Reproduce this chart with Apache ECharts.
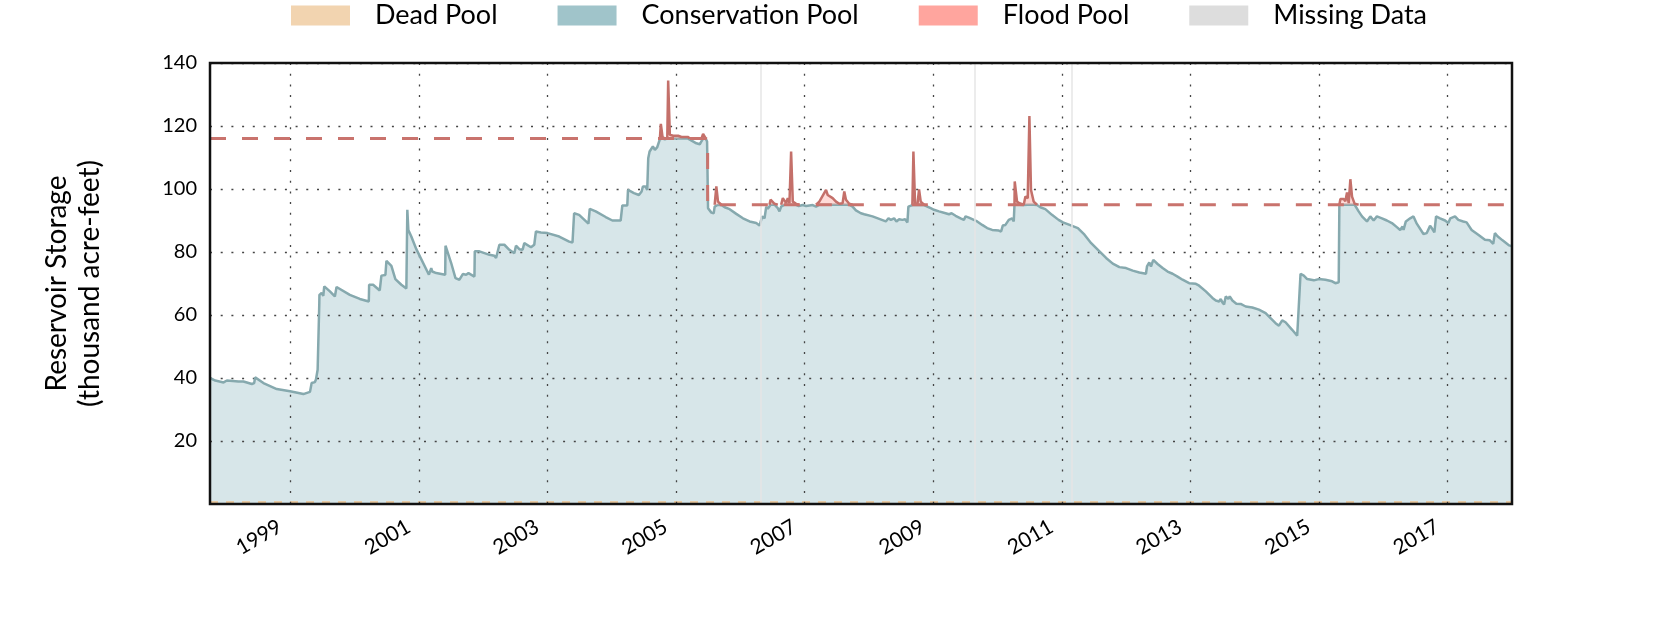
<!DOCTYPE html>
<html><head><meta charset="utf-8">
<script src="https://cdn.jsdelivr.net/npm/echarts@6.0.0/dist/echarts.min.js"></script>
<style>html,body{margin:0;padding:0;background:#fff}#c{width:1680px;height:630px}</style>
</head><body><div id="c"></div>
<script>
// Decimal year of each reading
const years = [
1997.75,1997.832,1997.961,1998.013,1998.194,1998.220,1998.271,1998.401,1998.437,1998.452,
1998.581,1998.788,1998.995,1999.202,1999.305,1999.331,1999.382,1999.398,1999.424,1999.450,
1999.452,1999.486,1999.512,1999.527,1999.615,1999.692,1999.718,1999.925,2000.080,2000.220,
2000.225,2000.287,2000.390,2000.416,2000.478,2000.494,2000.571,2000.597,2000.633,2000.726,
2000.804,2000.819,2000.835,2000.881,2000.959,2001.155,2001.191,2001.207,2001.269,2001.408,
2001.413,2001.501,2001.568,2001.630,2001.682,2001.734,2001.770,2001.863,2001.868,2001.940,
2002.096,2002.173,2002.199,2002.251,2002.328,2002.406,2002.483,2002.509,2002.561,2002.612,
2002.638,2002.742,2002.793,2002.819,2002.897,2003.000,2003.181,2003.336,2003.388,2003.413,
2003.491,2003.636,2003.656,2003.749,2003.904,2004.008,2004.137,2004.163,2004.240,2004.251,
2004.344,2004.421,2004.463,2004.483,2004.524,2004.550,2004.566,2004.587,2004.618,2004.638,
2004.669,2004.706,2004.747,2004.762,2004.788,2004.824,2004.862,2004.876,2004.902,2004.953,
2005.031,2005.083,2005.186,2005.212,2005.315,2005.367,2005.393,2005.419,2005.460,2005.481,
2005.496,2005.548,2005.584,2005.599,2005.625,2005.651,2005.703,2005.755,2005.832,2005.935,
2006.039,2006.142,2006.245,2006.297,2006.323,2006.338,2006.375,2006.401,2006.426,2006.452,
2006.468,2006.530,2006.581,2006.607,2006.633,2006.659,2006.685,2006.711,2006.736,2006.762,
2006.788,2006.814,2006.866,2006.907,2006.969,2007.021,2007.124,2007.176,2007.227,2007.253,
2007.331,2007.357,2007.382,2007.434,2007.486,2007.537,2007.589,2007.615,2007.641,2007.692,
2007.744,2007.796,2007.873,2007.925,2007.951,2008.054,2008.158,2008.261,2008.302,2008.339,
2008.390,2008.426,2008.468,2008.519,2008.561,2008.597,2008.612,2008.674,2008.690,2008.716,
2008.752,2008.778,2008.804,2008.855,2008.907,2008.959,2009.010,2009.088,2009.191,2009.243,
2009.284,2009.346,2009.424,2009.475,2009.501,2009.553,2009.579,2009.630,2009.682,2009.760,
2009.837,2009.915,2010.018,2010.054,2010.080,2010.121,2010.173,2010.225,2010.251,2010.262,
2010.266,2010.302,2010.338,2010.406,2010.432,2010.468,2010.494,2010.519,2010.561,2010.612,
2010.664,2010.742,2010.845,2010.948,2011.016,2011.119,2011.248,2011.351,2011.455,2011.584,
2011.687,2011.791,2011.894,2011.997,2012.101,2012.204,2012.307,2012.323,2012.359,2012.385,
2012.421,2012.488,2012.566,2012.643,2012.721,2012.798,2012.876,2012.979,2013.083,2013.134,
2013.238,2013.341,2013.393,2013.444,2013.470,2013.496,2013.522,2013.548,2013.589,2013.610,
2013.651,2013.713,2013.780,2013.858,2013.961,2014.064,2014.168,2014.245,2014.323,2014.375,
2014.426,2014.478,2014.581,2014.659,2014.685,2014.711,2014.762,2014.814,2014.917,2014.995,
2015.098,2015.202,2015.253,2015.305,2015.315,2015.331,2015.382,2015.408,2015.434,2015.460,
2015.486,2015.512,2015.553,2015.615,2015.667,2015.744,2015.796,2015.848,2015.899,2015.977,
2016.054,2016.132,2016.209,2016.261,2016.297,2016.313,2016.349,2016.416,2016.468,2016.519,
2016.623,2016.674,2016.726,2016.752,2016.793,2016.819,2016.881,2016.959,2017.010,2017.041,
2017.114,2017.165,2017.242,2017.294,2017.372,2017.475,2017.579,2017.656,2017.708,2017.734,
2017.775,2017.853,2017.956,2018.0
];
// Reservoir storage (thousand acre-feet)
const storage = [
40.0,39.2,38.6,39.2,38.9,39.5,38.9,38.1,38.4,40.2,
38.4,36.5,35.8,34.9,35.6,38.4,38.7,39.5,42.6,63.8,
66.4,67.0,66.1,69.1,67.5,65.9,68.9,66.4,65.1,64.3,
69.6,69.6,67.8,72.5,72.7,77.2,75.6,75.4,71.4,69.6,
68.4,93.4,87.0,84.9,80.9,72.8,74.9,73.8,73.3,72.8,
82.0,76.5,71.7,71.2,73.0,72.8,73.3,72.2,80.2,80.2,
79.1,78.8,78.1,82.3,82.3,80.7,79.6,82.0,80.9,80.7,
82.8,81.5,82.3,86.5,86.2,86.0,84.9,83.3,83.0,92.3,
91.8,89.0,93.7,92.9,91.1,90.0,90.0,94.8,94.8,99.7,
98.7,98.1,99.2,100.8,100.8,99.7,109.8,111.9,111.4,113.5,
112.4,113.3,115.8,120.7,116.5,115.8,116.2,134.4,117.2,116.9,
116.9,116.5,116.5,115.8,114.5,114.2,115.1,117.5,116.1,115.1,
93.9,92.5,92.3,94.4,100.8,96.0,94.9,94.2,93.6,92.1,
90.7,89.7,89.2,88.4,89.0,91.3,90.7,94.4,93.7,93.9,
96.6,95.3,93.9,92.9,94.4,97.1,97.6,95.5,97.1,95.5,
111.9,96.0,95.3,94.6,94.9,94.6,94.9,94.4,96.0,95.5,
99.7,98.1,98.4,97.1,96.0,95.3,95.5,99.2,96.6,95.3,
94.4,93.2,92.3,92.0,92.3,91.3,90.5,89.7,90.7,90.2,
90.7,89.7,90.4,90.2,90.4,89.4,94.4,94.9,111.9,95.3,
94.9,99.9,96.0,94.9,94.4,93.9,93.4,92.9,92.3,92.0,
92.3,91.5,90.7,90.2,91.3,90.9,91.3,90.2,89.7,88.6,
87.6,87.0,86.8,86.5,88.4,88.6,90.2,90.7,89.7,95.0,
102.4,96.0,95.5,94.9,97.6,97.1,123.2,99.7,96.0,94.9,
94.2,93.6,91.8,90.2,89.4,88.6,87.6,85.5,82.8,80.2,
78.1,76.3,75.2,74.9,74.1,73.5,73.1,75.4,76.7,75.4,
77.5,76.2,74.9,73.8,73.1,72.2,71.2,70.1,69.9,69.3,
67.5,65.4,64.6,64.3,65.1,64.0,63.3,65.9,65.1,65.9,
64.6,63.6,63.5,62.7,62.4,61.7,60.6,59.0,57.4,56.6,
58.3,57.7,55.3,53.4,53.7,73.1,72.5,71.4,71.0,71.4,
71.2,70.7,70.1,70.4,95.0,96.8,96.8,96.1,98.9,95.5,
103.1,97.6,95.3,92.9,91.3,89.7,91.3,90.0,91.3,90.7,
90.0,89.2,87.9,87.0,88.1,87.0,89.7,90.7,91.3,89.0,
85.7,86.0,88.3,87.6,86.2,91.3,90.7,90.0,89.2,90.7,
91.3,90.2,89.7,89.4,87.0,85.5,83.9,83.7,82.6,86.0,
85.0,83.7,82.1,81.8
];
// Top of conservation pool: boundaries of each period and its level
const poolBreakYears = [1997.75, 2005.49, 2018.0];
const poolTopLevels = [116, 95];
const deadPoolLevel = 0.6;
const missingYears = [2006.307, 2009.645, 2011.148];
const xTickYears = [1999, 2001, 2003, 2005, 2007, 2009, 2011, 2013, 2015, 2017];
const yTickValues = [20, 40, 60, 80, 100, 120, 140];
const legendNames = ['Dead Pool', 'Conservation Pool', 'Flood Pool', 'Missing Data'];
const legendColors = ['#f2d4b0', '#a0c4ca', '#ffa59e', '#dddddd'];

function periodOf(y) {
  for (let i = 0; i < poolTopLevels.length; i++) {
    if (y < poolBreakYears[i + 1]) return i;
  }
  return poolTopLevels.length - 1;
}
function topAt(y) { return poolTopLevels[periodOf(y)]; }
const consData = years.map((y, i) => [y, Math.min(storage[i], topAt(y))]);
const above = storage.map((v, i) => v > topAt(years[i]));
function floodDataFor(p) {
  return years.map((y, i) => {
    const near = above[i] || (i > 0 && above[i - 1]) || (i < years.length - 1 && above[i + 1]);
    const inP = periodOf(y) === p;
    return [y, (near && inP) ? Math.max(storage[i], poolTopLevels[p]) : null];
  });
}
const topLine = [];
for (let i = 0; i < poolTopLevels.length; i++) {
  topLine.push([poolBreakYears[i], poolTopLevels[i]]);
  topLine.push([poolBreakYears[i + 1], poolTopLevels[i]]);
}

const FONT = 'Lato';
const gridLine = { color: '#444', width: 1.3, type: [2, 8.7] };
const floodSeries = poolTopLevels.map((lvl, p) => ({
  name: 'Flood Pool', type: 'line', z: 4, symbol: 'none', silent: true, connectNulls: false,
  data: floodDataFor(p),
  lineStyle: { color: '#c4706a', width: 2.5 },
  areaStyle: { color: '#ffa59e', opacity: 0.4, origin: lvl }
}));
const chart = echarts.init(document.getElementById('c'));
chart.setOption({
  animation: false,
  textStyle: { fontFamily: FONT, color: '#000' },
  legend: {
    left: 291, top: 2, padding: 0,
    icon: 'rect', itemWidth: 59, itemHeight: 20, itemGap: 60,
    textStyle: { fontFamily: FONT, fontSize: 27, color: '#000', lineHeight: 20, padding: [0, 0, 0, 20] },
    data: legendNames.map((n, i) => ({ name: n, itemStyle: { color: legendColors[i] } }))
  },
  grid: { left: 210, right: 168, top: 63, bottom: 126, show: true, borderColor: '#111', borderWidth: 2.5, backgroundColor: 'transparent', z: 6 },
  xAxis: {
    type: 'value', min: poolBreakYears[0], max: poolBreakYears[poolBreakYears.length - 1], z: 2,
    axisLine: { show: false },
    axisTick: { show: false, customValues: xTickYears },
    axisLabel: { customValues: xTickYears, rotate: 30, margin: 15, fontSize: 21, fontFamily: FONT, color: '#000',
      align: 'right', verticalAlign: 'middle', padding: [0, 12, 0, 0],
      formatter: v => String(Math.round(v)) },
    splitLine: { show: true, lineStyle: gridLine }
  },
  yAxis: {
    type: 'value', min: 0, max: 140, z: 2,
    name: 'Reservoir Storage\n(thousand acre-feet)', nameLocation: 'middle', nameGap: 104,
    nameTextStyle: { fontFamily: FONT, fontSize: 28, lineHeight: 33, color: '#000' },
    axisLine: { show: false },
    axisTick: { show: false, customValues: yTickValues },
    axisLabel: { customValues: yTickValues, margin: 13, fontSize: 20, fontFamily: FONT, color: '#000' },
    splitLine: { show: true, lineStyle: gridLine }
  },
  series: [
    { name: 'Missing Data', type: 'line', data: [], z: 1, silent: true,
      markLine: { silent: true, symbol: 'none', label: { show: false },
        lineStyle: { color: '#e6e6e6', width: 1.5, type: 'solid' },
        data: missingYears.map(y => ({ xAxis: y })) } },
    { name: 'Dead Pool', type: 'line', z: 1, symbol: 'none', silent: true,
      data: [[poolBreakYears[0], deadPoolLevel], [poolBreakYears[poolBreakYears.length - 1], deadPoolLevel]],
      lineStyle: { color: '#e9c79c', width: 2, type: [8, 8] } },
    { name: 'Conservation Pool', type: 'line', z: 1, symbol: 'none', silent: true, data: consData,
      lineStyle: { width: 0 }, areaStyle: { color: '#a0c4ca', opacity: 0.42 } },
    { name: 'Conservation Pool', type: 'line', z: 3, symbol: 'none', silent: true, data: consData,
      lineStyle: { color: '#86a9ae', width: 2.5 } },
    ...floodSeries,
    { name: 'Top of Conservation', type: 'line', z: 5, symbol: 'none', silent: true, data: topLine,
      lineStyle: { color: '#c9736d', width: 3, type: [16, 16] } }
  ]
});
</script>
</body></html>
